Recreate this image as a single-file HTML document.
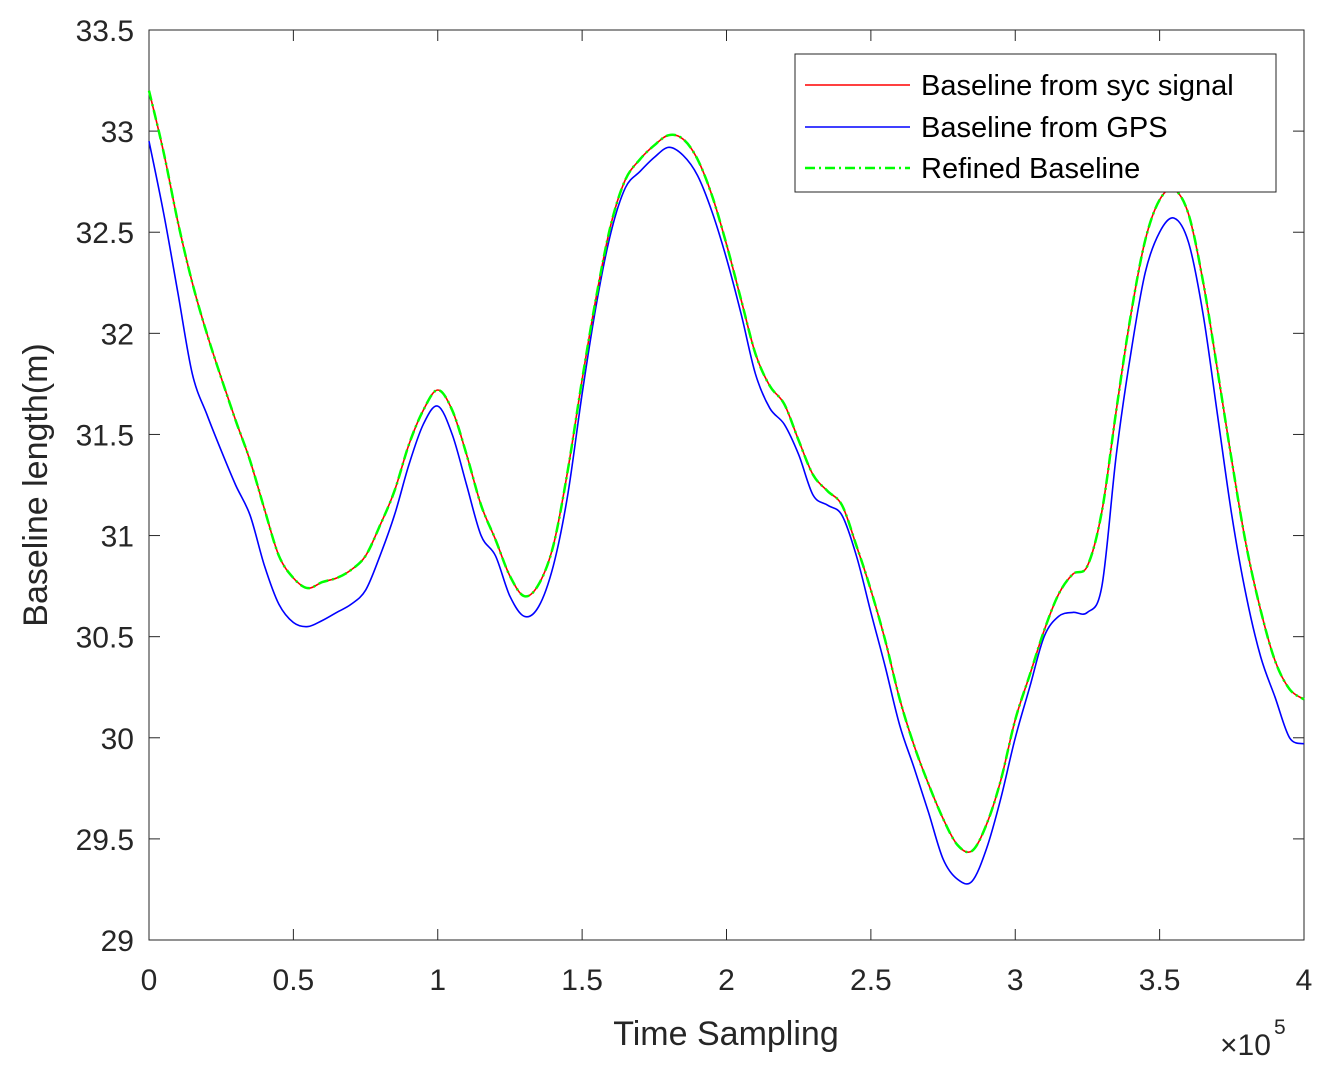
<!DOCTYPE html>
<html><head><meta charset="utf-8"><style>
body{margin:0;background:#fff;}
svg{display:block;font-family:"Liberation Sans",Arial,sans-serif;}
</style></head><body>
<svg id="chart" width="1327" height="1070"></svg>
<script>
const xs=[0,0.05,0.1,0.15,0.2,0.25,0.3,0.35,0.4,0.45,0.5,0.55,0.6,0.65,0.7,0.75,0.8,0.85,0.9,0.95,1.0,1.05,1.1,1.15,1.2,1.25,1.3,1.35,1.4,1.45,1.5,1.55,1.6,1.65,1.7,1.75,1.8,1.85,1.9,1.95,2.0,2.05,2.1,2.15,2.2,2.25,2.3,2.35,2.4,2.45,2.5,2.55,2.6,2.65,2.7,2.75,2.8,2.85,2.9,2.95,3.0,3.05,3.1,3.15,3.2,3.25,3.3,3.35,3.4,3.45,3.5,3.55,3.6,3.65,3.7,3.75,3.8,3.85,3.9,3.95,4.0];
const sycValues=[33.2,32.9,32.55,32.25,32.0,31.78,31.57,31.37,31.13,30.9,30.79,30.74,30.77,30.79,30.83,30.9,31.05,31.22,31.45,31.62,31.72,31.62,31.4,31.15,30.98,30.8,30.7,30.76,30.95,31.32,31.77,32.19,32.54,32.76,32.86,32.93,32.98,32.96,32.86,32.68,32.44,32.17,31.9,31.74,31.65,31.47,31.3,31.22,31.15,30.95,30.73,30.48,30.19,29.96,29.77,29.6,29.47,29.44,29.57,29.79,30.09,30.31,30.53,30.71,30.81,30.85,31.12,31.62,32.09,32.46,32.66,32.71,32.59,32.26,31.82,31.37,30.95,30.63,30.38,30.24,30.19];
const gpsValues=[32.95,32.6,32.2,31.8,31.6,31.42,31.25,31.1,30.85,30.66,30.57,30.55,30.58,30.62,30.66,30.73,30.9,31.1,31.35,31.55,31.64,31.5,31.25,31.0,30.9,30.7,30.6,30.65,30.85,31.2,31.7,32.15,32.5,32.72,32.8,32.87,32.92,32.88,32.78,32.6,32.37,32.1,31.8,31.63,31.55,31.4,31.2,31.15,31.1,30.9,30.62,30.35,30.06,29.85,29.63,29.4,29.3,29.29,29.45,29.7,30.0,30.25,30.5,30.6,30.62,30.62,30.75,31.4,31.9,32.3,32.5,32.57,32.45,32.1,31.6,31.1,30.7,30.4,30.2,30.0,29.97];
const refinedValues=sycValues.slice();
const xTicks=[0,0.5,1,1.5,2,2.5,3,3.5,4];
const xTickLabels=["0","0.5","1","1.5","2","2.5","3","3.5","4"];
const yTicks=[29,29.5,30,30.5,31,31.5,32,32.5,33,33.5];
const yTickLabels=["29","29.5","30","30.5","31","31.5","32","32.5","33","33.5"];

const L=149,R=1304,T=30,B=940;
const sx=v=>L+(v-0)/4*(R-L);
const sy=v=>B-(v-29)/4.5*(B-T);
const svg=document.getElementById('chart');
const NS='http://www.w3.org/2000/svg';
function mk(tag,attrs,parent){const e=document.createElementNS(NS,tag);for(const k in attrs)e.setAttribute(k,attrs[k]);(parent||svg).appendChild(e);return e;}

const frame=mk('rect',{x:L,y:T,width:R-L,height:B-T,fill:'#fff',stroke:'#262626','stroke-width':1});



xTicks.forEach((t,i)=>{
  const x=sx(t);
  mk('line',{x1:x,x2:x,y1:B,y2:B-11,stroke:'#262626'});
  mk('line',{x1:x,x2:x,y1:T,y2:T+11,stroke:'#262626'});
  const tx=mk('text',{x:x,y:B+50,'text-anchor':'middle','font-size':30,fill:'#262626'});
  tx.textContent=xTickLabels[i];
  
  
});
yTicks.forEach((t,i)=>{
  const y=sy(t);
  mk('line',{x1:L,x2:L+11,y1:y,y2:y,stroke:'#262626'});
  mk('line',{x1:R,x2:R-11,y1:y,y2:y,stroke:'#262626'});
  const tx=mk('text',{x:L-15,y:y+11,'text-anchor':'end','font-size':30,fill:'#262626'});
  tx.textContent=yTickLabels[i];
  
  
});

function series(vals,color,dash,name){
  const P=vals.map((v,i)=>[sx(xs[i]),sy(v)]);
  let d='M'+P[0][0].toFixed(1)+','+P[0][1].toFixed(1);
  for(let i=0;i<P.length-1;i++){
    const p0=P[Math.max(0,i-1)],p1=P[i],p2=P[i+1],p3=P[Math.min(P.length-1,i+2)];
    const c1=[p1[0]+(p2[0]-p0[0])/6,p1[1]+(p2[1]-p0[1])/6];
    const c2=[p2[0]-(p3[0]-p1[0])/6,p2[1]-(p3[1]-p1[1])/6];
    d+=' C'+c1[0].toFixed(1)+','+c1[1].toFixed(1)+' '+c2[0].toFixed(1)+','+c2[1].toFixed(1)+' '+p2[0].toFixed(1)+','+p2[1].toFixed(1);
  }
  const p=mk('path',{d:d,fill:'none',stroke:color,'stroke-width':dash?2.5:1.6,'stroke-linejoin':'round'});
  if(dash)p.setAttribute('stroke-dasharray',dash);
  
  
}
series(gpsValues,'#0000ff',null,'gps-baseline-line');
series(sycValues,'#ff0000',null,'syc-baseline-line');
series(refinedValues,'#00ff00','10,4,2,4','refined-baseline-line');

const xl=mk('text',{x:726,y:1045,'text-anchor':'middle','font-size':34,fill:'#262626'});
xl.textContent='Time Sampling';


const yl=mk('text',{x:0,y:0,transform:'translate(47,485) rotate(-90)','text-anchor':'middle','font-size':34,fill:'#262626'});
yl.textContent='Baseline length(m)';


const ex=mk('text',{x:1220,y:1055,'font-size':30,fill:'#262626'});
ex.textContent='×10';


const ex5=mk('text',{x:1274,y:1034,'font-size':21,fill:'#262626'});
ex5.textContent='5';

const lg=mk('g',{});


mk('rect',{x:795,y:54,width:481,height:138,fill:'#fff',stroke:'#262626'},lg);
const entries=[['Baseline from syc signal','#ff0000',null,85],['Baseline from GPS','#0000ff',null,127],['Refined Baseline','#00ff00','10,4,2,4',168]];
entries.forEach(e=>{
  const ln=mk('line',{x1:805,x2:910,y1:e[3],y2:e[3],stroke:e[1],'stroke-width':e[2]?2.5:1.6},lg);
  if(e[2])ln.setAttribute('stroke-dasharray',e[2]);
  const t=mk('text',{x:921,y:e[3]+10,'font-size':29,fill:'#000'},lg);
  t.textContent=e[0];
  
  
});
</script>
</body></html>
